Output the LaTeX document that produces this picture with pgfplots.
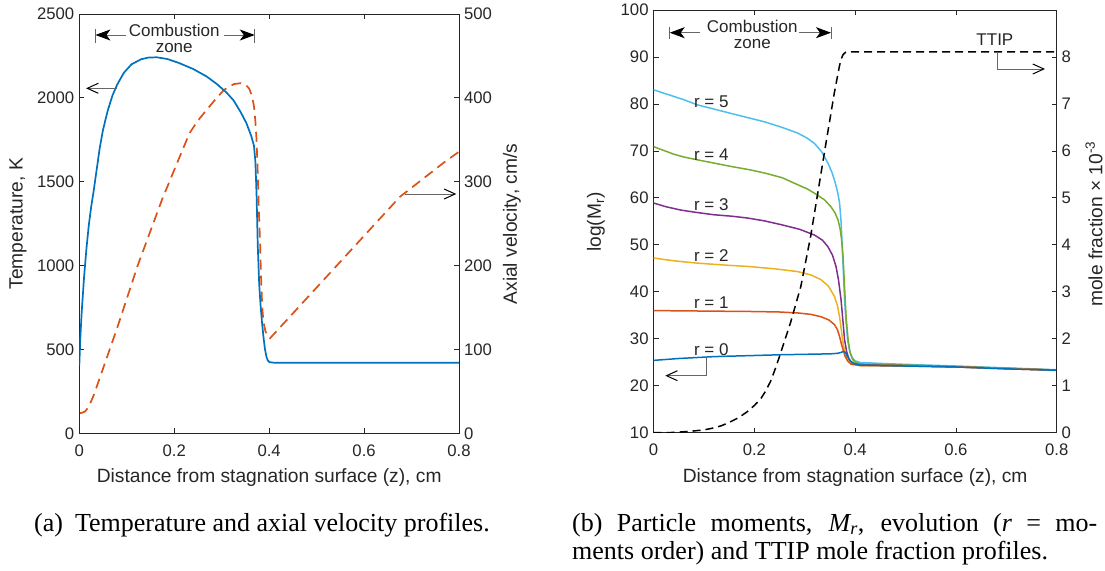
\documentclass[border=0pt]{standalone}
\usepackage{fontspec}
\setmainfont{Liberation Sans}
\newfontfamily\seriffont{Liberation Serif}
\usepackage{pgfplots}
\pgfplotsset{compat=1.18}
\usetikzlibrary{arrows.meta}
\definecolor{mblue}{rgb}{0,0.447,0.741}
\definecolor{morange}{rgb}{0.85,0.325,0.098}
\definecolor{myellow}{rgb}{0.929,0.694,0.125}
\definecolor{mpurple}{rgb}{0.494,0.184,0.556}
\definecolor{mgreen}{rgb}{0.466,0.674,0.188}
\definecolor{mcyan}{rgb}{0.301,0.745,0.933}
\definecolor{axgray}{rgb}{0.15,0.15,0.15}
\definecolor{anngray}{rgb}{0.4,0.4,0.4}
\pgfplotsset{
  mystyle/.style={
    scale only axis, anchor=south west,
    xmin=0, xmax=0.8,
    tick align=inside, major tick length=5pt,
    axis line style={draw=axgray, line width=0.8pt},
    tick style={draw=axgray, line width=0.8pt},
    tick label style={text=axgray, font=\fontsize{16.7}{20}\selectfont},
    /pgf/number format/assume math mode=true,
    /pgf/number format/1000 sep={},
    scaled ticks=false,
    xticklabel style={yshift=-8pt},
    yticklabel style={xshift=-1.5pt},
  }
}
\tikzset{
  annot/.style={draw=anngray, line width=1pt},
  fz/.style={font=\fontsize{17}{20}\selectfont, text=axgray, inner sep=0pt},
  lz/.style={font=\fontsize{19.2}{23}\selectfont, text=axgray, inner sep=0pt},
  cz/.style={anchor=base west, inner sep=0pt, font=\seriffont\fontsize{26}{30}\selectfont},
}
\begin{document}
\begin{tikzpicture}
\useasboundingbox (0pt,0pt) rectangle (1105pt,-570pt);
% ---------------- left plot: velocity (right axis)
\begin{axis}[mystyle, at={(79.3pt,-433.3pt)}, width=379.7pt, height=419.3pt,
  ymin=0, ymax=500, ytick={0,100,200,300,400,500},
  axis x line=none, axis y line*=right,
  yticklabel style={xshift=3pt}]
\addplot[morange, line width=1.7pt, dash pattern=on 10pt off 6pt] coordinates {
(0,23.8) (0.006,24.5) (0.012,26) (0.02,31.5) (0.03,45) (0.0367,55.6) (0.08,126) (0.123,200)
(0.174,278.2) (0.2,314) (0.232,357.7) (0.25,373) (0.268,385.5) (0.285,397) (0.3045,409.4)
(0.326,416.5) (0.340,417.5) (0.35,416) (0.358,411) (0.364,402) (0.368,390) (0.371,372)
(0.3734,350) (0.376,310) (0.378,270) (0.3807,230) (0.383,185) (0.3855,150) (0.388,133)
(0.392,122) (0.397,115.5) (0.4018,113.3) (0.6757,282.1) (0.7705,323.9) (0.8,335.8)};
\end{axis}
% ---------------- left plot: temperature
\begin{axis}[mystyle, at={(79.3pt,-433.3pt)}, width=379.7pt, height=419.3pt,
  ymin=0, ymax=2500, xtick={0,0.2,0.4,0.6,0.8}, ytick={0,500,1000,1500,2000,2500},
  ytick pos=left]
\addplot[mblue, line width=1.7pt] coordinates {
(0,403) (0.002,560) (0.005,720) (0.01,930) (0.015,1100) (0.02,1240) (0.025,1350) (0.03,1440)
(0.036,1560) (0.043,1700) (0.05,1810) (0.06,1925) (0.07,2015) (0.08,2080) (0.094,2150)
(0.11,2200) (0.13,2230) (0.145,2240) (0.163,2242) (0.185,2232) (0.21,2208) (0.24,2172)
(0.268,2128) (0.29,2082) (0.31,2032) (0.325,1985) (0.34,1915) (0.352,1850) (0.362,1775)
(0.368,1715) (0.371,1620) (0.3735,1420) (0.376,1120) (0.379,890) (0.382,760) (0.385,660)
(0.388,575) (0.391,505) (0.394,460) (0.397,435) (0.401,424) (0.41,421) (0.8,421)};
\end{axis}
% ---------------- right plot: moments
\begin{axis}[mystyle, at={(653.6pt,-432.7pt)}, width=403.1pt, height=422.7pt,
  ymin=10, ymax=100, xtick={0,0.2,0.4,0.6,0.8}, ytick={10,20,30,40,50,60,70,80,90,100},
  ytick pos=left]
\addplot[mcyan, line width=1.5pt] coordinates {
(0,83.0) (0.02,82.3) (0.04,81.6) (0.06,80.9) (0.087,79.8) (0.12,78.9) (0.153,78.0) (0.19,77.0)
(0.22,76.2) (0.255,75.0) (0.286,73.8) (0.305,72.7) (0.319,71.6) (0.333,69.9) (0.346,67.4)
(0.354,65.4) (0.36,63.4) (0.365,61.3) (0.369,59.0) (0.372,55.0) (0.374,50.5) (0.3765,44.5)
(0.379,38.3) (0.382,33.5) (0.385,29.8) (0.389,27.4) (0.394,26.0) (0.4,25.3) (0.41,24.95)
(0.45,24.75) (0.5,24.55) (0.6,24.2) (0.7,23.8) (0.8,23.4)};
\addplot[mgreen, line width=1.5pt] coordinates {
(0,70.9) (0.02,70.1) (0.04,69.3) (0.06,68.7) (0.087,68.1) (0.12,67.4) (0.153,66.7) (0.19,66.0)
(0.22,65.3) (0.255,64.3) (0.286,62.8) (0.305,61.9) (0.319,61.0) (0.339,59.6) (0.352,58.1)
(0.36,56.8) (0.366,55.3) (0.370,53.5) (0.373,51.2) (0.376,47.5) (0.379,41) (0.382,34.7)
(0.386,29.8) (0.390,27.0) (0.395,25.6) (0.4,25.0) (0.41,24.65) (0.5,24.4) (0.6,24.1)
(0.7,23.7) (0.8,23.35)};
\addplot[mpurple, line width=1.5pt] coordinates {
(0,58.9) (0.025,58.1) (0.054,57.4) (0.085,56.9) (0.12,56.4) (0.155,56.1) (0.187,55.7)
(0.22,55.1) (0.253,54.3) (0.29,53.3) (0.319,52.1) (0.335,51.0) (0.346,49.6) (0.355,47.8)
(0.362,45.4) (0.367,42.5) (0.372,38.3) (0.376,33.5) (0.379,29.8) (0.383,27.3) (0.388,25.6)
(0.395,24.8) (0.41,24.4) (0.5,24.3) (0.6,24.0) (0.7,23.7) (0.8,23.3)};
\addplot[myellow, line width=1.5pt] coordinates {
(0,47.2) (0.04,46.6) (0.087,46.1) (0.14,45.7) (0.187,45.4) (0.24,44.9) (0.286,44.3)
(0.312,43.6) (0.332,42.6) (0.347,41.2) (0.359,39.0) (0.365,37.0) (0.369,34.7) (0.373,31.5)
(0.376,29.1) (0.38,26.9) (0.385,25.3) (0.392,24.6) (0.41,24.3) (0.5,24.25) (0.6,24.0)
(0.7,23.7) (0.8,23.3)};
\addplot[morange, line width=1.5pt] coordinates {
(0,36.0) (0.1,35.9) (0.2,35.8) (0.25,35.7) (0.286,35.5) (0.312,35.2) (0.332,34.7) (0.348,34.0)
(0.359,33.0) (0.365,31.9) (0.369,30.5) (0.373,28.8) (0.376,27.7) (0.38,26.3) (0.385,25.3)
(0.392,24.6) (0.41,24.3) (0.5,24.2) (0.6,24.0) (0.7,23.6) (0.8,23.3)};
\addplot[mblue, line width=1.5pt] coordinates {
(0,25.4) (0.05,25.8) (0.12,26.2) (0.253,26.6) (0.33,26.75) (0.352,26.8) (0.365,26.9)
(0.372,27.1) (0.377,27.3) (0.381,27.1) (0.385,26.2) (0.391,25.2) (0.398,24.7) (0.41,24.4)
(0.5,24.2) (0.6,24.0) (0.7,23.6) (0.8,23.3)};
\end{axis}
% ---------------- right plot: TTIP
\begin{axis}[mystyle, at={(653.6pt,-432.7pt)}, width=403.1pt, height=422.7pt,
  ymin=0, ymax=9, ytick={0,1,2,3,4,5,6,7,8},
  axis x line=none, axis y line*=right,
  yticklabel style={xshift=3pt}]
\addplot[black, line width=1.5pt, dash pattern=on 8pt off 5pt] coordinates {
(0,0) (0.04,0.005) (0.073,0.03) (0.1,0.06) (0.1187,0.10) (0.135,0.15) (0.15,0.22) (0.165,0.30)
(0.1727,0.35) (0.185,0.44) (0.2,0.58) (0.2125,0.72) (0.222,0.88) (0.2324,1.10) (0.2422,1.38)
(0.2522,1.70) (0.2722,2.36) (0.2921,3.11) (0.312,4.2) (0.325,5.05) (0.342,6.16) (0.3586,7.23)
(0.3685,7.79) (0.372,7.95) (0.376,8.05) (0.381,8.1) (0.39,8.11) (0.8,8.11)};
\end{axis}
% ---------------- axis labels
\node[lz, rotate=90] at (18pt,-223.7pt) {Temperature, K};
\node[lz, rotate=90] at (512pt,-224pt) {Axial velocity, cm/s};
\node[lz] at (269.2pt,-477.7pt) {Distance from stagnation surface (z), cm};
\node[lz, rotate=90] at (596pt,-222pt) {log(M\textsubscript{r})};
\node[lz, rotate=90] at (1094pt,-224pt) {mole fraction × 10\textsuperscript{-3}};
\node[lz] at (855.15pt,-477.7pt) {Distance from stagnation surface (z), cm};
% ---------------- left annotations
\node[fz, anchor=base] at (174.2pt,-36.7pt) {Combustion};
\node[fz, anchor=base] at (174.2pt,-52.7pt) {zone};
\draw[annot] (95.4pt,-29.3pt) -- (95.4pt,-43.3pt);
\draw[annot, -{Stealth[length=15pt,width=11pt,inset=4pt,color=black]}] (125.7pt,-35pt) -- (95.4pt,-35pt);
\draw[annot, -{Stealth[length=15pt,width=11pt,inset=4pt,color=black]}] (223.8pt,-35pt) -- (254.8pt,-35pt);
\draw[annot] (254.8pt,-29.3pt) -- (254.8pt,-43.3pt);
\draw[annot, -{Straight Barb[length=11pt,width=10pt,color=black]}] (117.1pt,-88.3pt) -- (86.1pt,-88.3pt);
\draw[annot, -{Straight Barb[length=11pt,width=10pt,color=black]}] (405pt,-194pt) -- (456.3pt,-194pt);
% ---------------- right annotations
\node[fz, anchor=base] at (752.3pt,-32.7pt) {Combustion};
\node[fz, anchor=base] at (752.3pt,-48.3pt) {zone};
\draw[annot] (669.7pt,-26.7pt) -- (669.7pt,-39.3pt);
\draw[annot, -{Stealth[length=15pt,width=11pt,inset=4pt,color=black]}] (700.4pt,-32.7pt) -- (669.7pt,-32.7pt);
\draw[annot, -{Stealth[length=15pt,width=11pt,inset=4pt,color=black]}] (799pt,-32.7pt) -- (831pt,-32.7pt);
\draw[annot] (831pt,-26.7pt) -- (831pt,-39.3pt);
\node[fz, anchor=base] at (994.9pt,-45pt) {TTIP};
\draw[annot, -{Straight Barb[length=11pt,width=10pt,color=black]}] (997.5pt,-51.7pt) -- (997.5pt,-69pt) -- (1045pt,-69pt);
\node[fz, anchor=base] at (711.3pt,-107pt) {r = 5};
\node[fz, anchor=base] at (711.3pt,-160.6pt) {r = 4};
\node[fz, anchor=base] at (711.3pt,-210pt) {r = 3};
\node[fz, anchor=base] at (711.3pt,-261.7pt) {r = 2};
\node[fz, anchor=base] at (711.3pt,-308.3pt) {r = 1};
\node[fz, anchor=base] at (711.3pt,-355pt) {r = 0};
\draw[annot, -{Straight Barb[length=11pt,width=10pt,color=black]}] (706.5pt,-358.3pt) -- (706.5pt,-375.7pt) -- (665.3pt,-375.7pt);
% ---------------- captions
\node[cz] at (34pt,-531pt) {(a)\hspace{12pt}Temperature and axial velocity profiles.};
\node[cz] at (572pt,-531pt)
  {\makebox[525pt][s]{(b) Particle moments, \textit{M\textsubscript{r}}, evolution (\textit{r} = mo-}};
\node[cz] at (572pt,-559pt) {ments order) and TTIP mole fraction profiles.};
\end{tikzpicture}
\end{document}
